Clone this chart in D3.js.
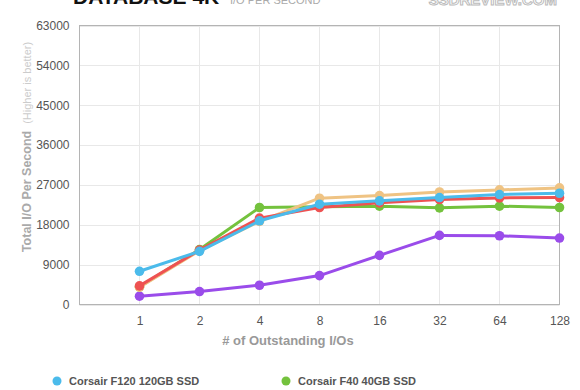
<!DOCTYPE html>
<html>
<head>
<meta charset="utf-8">
<script src="https://cdn.jsdelivr.net/npm/d3@7"></script>
<style>
  body { margin: 0; background: #fff; }
  svg { display: block; font-family: "Liberation Sans", Arial, sans-serif; }
</style>
</head>
<body>
<svg id="chart" width="580" height="390"></svg>
<script>
// outstanding IO depth
var categories = ["1", "2", "4", "8", "16", "32", "64", "128"];
var yTicks = [0, 9000, 18000, 27000, 36000, 45000, 54000, 63000];

var seriesNames = ["Corsair F120 120GB SSD", "Corsair F40 40GB SSD", "OCZ Vertex 2 100GB SSD", "Intel X25-M 80GB SSD", "Kingston SSDNow V 40GB SSD"];
var seriesColors = ["#4bbbeb", "#74c23d", "#ee5252", "#efc383", "#9a4cea"];

var f120 = [7500, 12000, 18900, 22650, 23400, 24150, 24825, 25125];
var f40 = [4000, 12400, 21900, 22100, 22200, 21825, 22200, 21900];
var redSeries = [4200, 12300, 19500, 21900, 22950, 23700, 24075, 24150];
var orangeSeries = [3900, 12150, 18750, 24000, 24600, 25400, 25875, 26325];
var purpleSeries = [1875, 2925, 4350, 6525, 11100, 15600, 15525, 15000];

var allValues = [f120, f40, redSeries, orangeSeries, purpleSeries];
// drawing order, bottom first
var drawOrder = [4, 1, 3, 2, 0];

var svg = d3.select("#chart");
var plotLeft = 79.5, plotRight = 559.5, plotTop = 25.5, plotBottom = 304.5;

var xscale = d3.scaleLinear().domain([0, categories.length]).range([plotLeft, plotRight]);
var yscale = d3.scaleLinear().domain([0, 63000]).range([plotBottom, plotTop]);

// header
svg.append("text").attr("x", 73).attr("y", 4)
    .attr("font-size", 21).attr("font-weight", "bold").attr("fill", "#111")
    .text("DATABASE 4K");
svg.append("text").attr("x", 230).attr("y", 4)
    .attr("font-size", 11).attr("fill", "#aaa")
    .text("I/O PER SECOND");
svg.append("text").attr("x", 557).attr("y", 5)
    .attr("text-anchor", "end")
    .attr("font-size", 15).attr("font-weight", "bold")
    .attr("fill", "#fff").attr("stroke", "#bbb").attr("stroke-width", 1)
    .text("SSDREVIEW.COM");

// grid
var grid = svg.append("g");
grid.selectAll(".hg").data(yTicks).enter().append("line")
    .attr("x1", plotLeft).attr("x2", plotRight)
    .attr("y1", function(d) { return Math.round(yscale(d)) + 0.5; })
    .attr("y2", function(d) { return Math.round(yscale(d)) + 0.5; })
    .attr("stroke", "#e8e8e8");
grid.selectAll(".vg").data(d3.range(1, categories.length + 1)).enter().append("line")
    .attr("x1", function(d) { return xscale(d); })
    .attr("x2", function(d) { return xscale(d); })
    .attr("y1", plotTop).attr("y2", plotBottom)
    .attr("stroke", "#e8e8e8");

// frame
svg.append("rect")
    .attr("x", plotLeft).attr("y", plotTop)
    .attr("width", plotRight - plotLeft).attr("height", plotBottom - plotTop)
    .attr("fill", "none").attr("stroke", "#b4b4b4");

// axes
var yAxis = d3.axisLeft(yscale).tickValues(yTicks).tickSize(0).tickPadding(10)
    .tickFormat(function(d) { return d; });
var yg = svg.append("g").attr("transform", "translate(" + plotLeft + ",0)").call(yAxis);
yg.select(".domain").remove();
yg.selectAll("text").attr("font-size", 12).attr("fill", "#555").attr("font-family", null);

var xAxis = d3.axisBottom(xscale).tickValues(d3.range(1, categories.length + 1))
    .tickSize(0).tickPadding(12)
    .tickFormat(function(i) { return categories[i - 1]; });
var xg = svg.append("g").attr("transform", "translate(0," + plotBottom + ")").call(xAxis);
xg.select(".domain").remove();
xg.selectAll("text").attr("font-size", 12).attr("fill", "#555").attr("font-family", null);

// axis titles
var yt = svg.append("text")
    .attr("transform", "translate(31,147) rotate(-90)")
    .attr("text-anchor", "middle");
yt.append("tspan").attr("font-size", 12.5).attr("font-weight", "bold").attr("fill", "#aaa")
    .text("Total I/O Per Second");
yt.append("tspan").attr("dx", 7).attr("font-size", 11).attr("fill", "#ccc")
    .text("(Higher is better)");

svg.append("text").attr("x", 288).attr("y", 345)
    .attr("text-anchor", "middle")
    .attr("font-size", 13).attr("font-weight", "bold").attr("fill", "#999")
    .text("# of Outstanding I/Os");

// series
var line = d3.line()
    .x(function(d, i) { return xscale(i + 1); })
    .y(function(d) { return yscale(d); });

drawOrder.forEach(function(s) {
    var g = svg.append("g");
    g.append("path")
        .attr("d", line(allValues[s]))
        .attr("fill", "none")
        .attr("stroke", seriesColors[s])
        .attr("stroke-width", 3)
        .attr("stroke-linejoin", "round");
    g.selectAll("circle").data(allValues[s]).enter().append("circle")
        .attr("cx", function(d, i) { return xscale(i + 1); })
        .attr("cy", function(d) { return yscale(d); })
        .attr("r", 4.8)
        .attr("fill", seriesColors[s]);
});

// legend, two columns
var legend = svg.append("g").selectAll("g")
    .data(seriesNames).enter().append("g")
    .attr("transform", function(d, i) {
        return "translate(" + (i % 2 == 0 ? 57 : 286) + "," + (381 + Math.floor(i / 2) * 20) + ")";
    });
legend.append("circle").attr("r", 4.5)
    .attr("fill", function(d, i) { return seriesColors[i]; });
legend.append("text").attr("x", 12).attr("y", 4)
    .attr("font-size", 11).attr("font-weight", "bold").attr("fill", "#555")
    .text(function(d) { return d; });
</script>
</body>
</html>
